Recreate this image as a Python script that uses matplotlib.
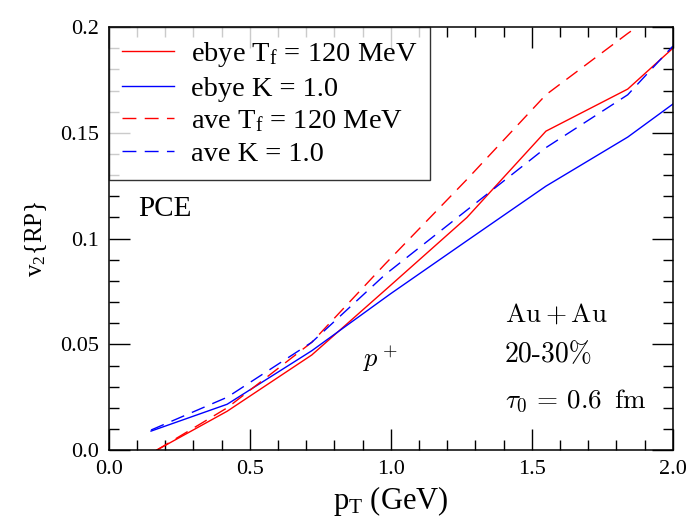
import numpy as np
import matplotlib
matplotlib.use("Agg")
import matplotlib.pyplot as plt
from matplotlib.ticker import MultipleLocator

plt.rcParams['font.family'] = ['Liberation Serif', 'DejaVu Serif']
plt.rcParams['mathtext.fontset'] = 'cm'

# pT grid and v2{RP} curves
pt_ebye_T = [0.17, 0.42, 0.72, 1.00, 1.27, 1.55, 1.84, 2.00]
v2_ebye_T = [0.000, 0.0184, 0.045, 0.078, 0.110, 0.1508, 0.1707, 0.190]

pt_ebye_K = [0.15, 0.42, 0.72, 1.00, 1.27, 1.55, 1.84, 2.00]
v2_ebye_K = [0.009, 0.0217, 0.047, 0.074, 0.099, 0.1248, 0.148, 0.1636]

pt_ave_T = [0.17, 0.42, 0.72, 0.98, 1.27, 1.55, 1.84, 2.00]
v2_ave_T = [0.000, 0.020, 0.051, 0.088, 0.128, 0.168, 0.197, 0.212]

pt_ave_K = [0.15, 0.42, 0.72, 0.98, 1.27, 1.55, 1.84, 2.00]
v2_ave_K = [0.0095, 0.025, 0.051, 0.083, 0.1135, 0.143, 0.168, 0.191]

labels = [r'ebye $\mathregular{T_f}$ = 120 MeV', 'ebye K = 1.0',
          r'ave $\mathregular{T_f}$ = 120 MeV', 'ave K = 1.0']

fig = plt.figure(figsize=(6.88, 5.21), dpi=100)
ax = fig.add_axes([0.158, 0.136, 0.820, 0.812])

red = '#ff0000'
blue = '#0000ff'
dash = (10, 6)
ax.plot(pt_ebye_T, v2_ebye_T, color=red, lw=1.0, label=labels[0])
ax.plot(pt_ebye_K, v2_ebye_K, color=blue, lw=1.0, label=labels[1])
ax.plot(pt_ave_T, v2_ave_T, color=red, lw=1.0, dashes=dash, label=labels[2])
ax.plot(pt_ave_K, v2_ave_K, color=blue, lw=1.0, dashes=dash, label=labels[3])

ax.set_xlim(0, 2.0)
ax.set_ylim(0, 0.2)
ax.xaxis.set_minor_locator(MultipleLocator(0.1))
ax.yaxis.set_minor_locator(MultipleLocator(0.01))
ax.set_xticks([0, 0.5, 1.0, 1.5, 2.0])
ax.set_xticklabels(['0.0', '0.5', '1.0', '1.5', '2.0'])
ax.set_yticks([0, 0.05, 0.1, 0.15, 0.2])
ax.set_yticklabels(['0.0', '0.05', '0.1', '0.15', '0.2'])
ax.tick_params(which='both', direction='in', top=True, right=True, labelsize=16, width=1.0)
ax.tick_params(which='major', length=15, pad=7)
ax.tick_params(which='minor', length=7.5)
for s in ax.spines.values():
    s.set_linewidth(1.1)

ax.set_xlabel(r'$\mathregular{p_T}$ (GeV)', fontsize=22, labelpad=4)
ax.set_ylabel(r'$\mathregular{v_2}${RP}', fontsize=18, labelpad=8)

leg = ax.legend(loc='upper left', fontsize=20.5, frameon=True, fancybox=False,
                borderaxespad=0, handlelength=1.85, labelspacing=0.24,
                borderpad=0.45, handletextpad=0.6)
leg.get_frame().set_edgecolor('black')
leg.get_frame().set_linewidth(1.0)

ax.text(0.106, 0.114, 'PCE', fontsize=21, va='center')
ax.text(0.90, 0.043, r'$p^+$', fontsize=19, va='center')
ax.text(1.404, 0.0638, r'$\mathrm{Au}+\mathrm{Au}$', fontsize=19.5, va='center')
ax.text(1.404, 0.0449, '20-30%', family='cmr10', fontsize=20, va='center')
ax.text(1.404, 0.0236, r'$\tau_0\,=\,0.6\;\;\mathrm{fm}$', fontsize=19.5, va='center')

fig.savefig('out.png', dpi=100)
